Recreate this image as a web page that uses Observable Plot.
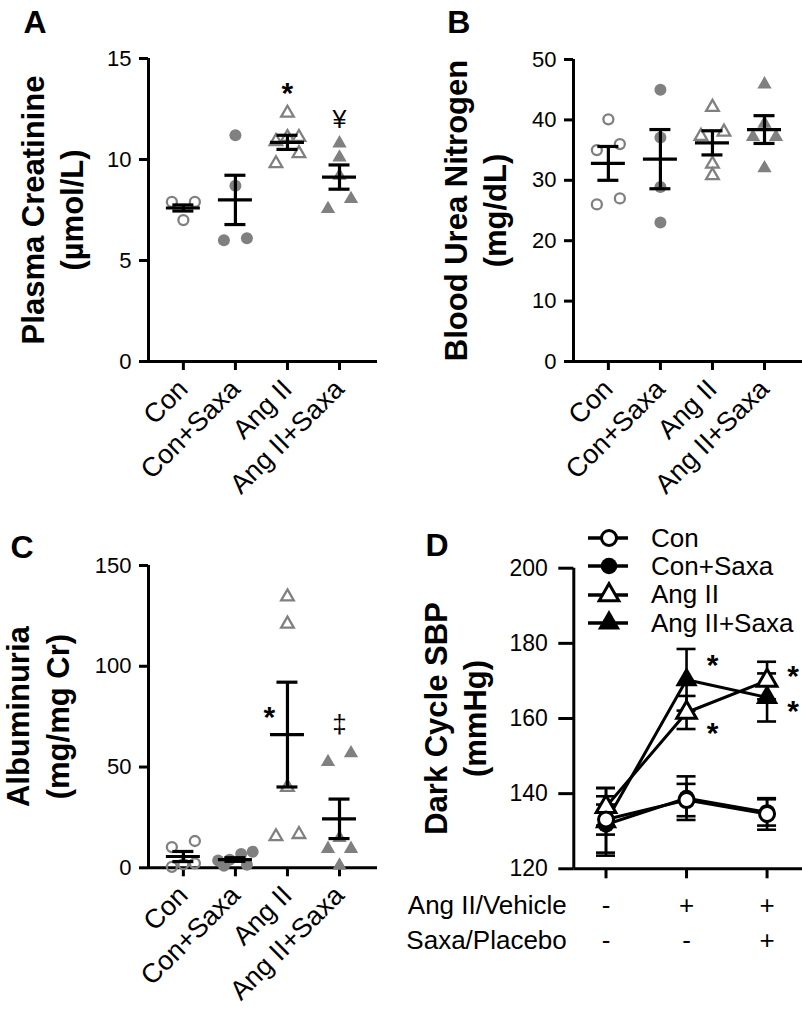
<!DOCTYPE html>
<html><head><meta charset="utf-8">
<script src="https://cdn.jsdelivr.net/npm/d3@7"></script>
<script src="https://cdn.jsdelivr.net/npm/@observablehq/plot@0.6"></script>
<style>
body{margin:0;background:#fff;}
#page{position:relative;width:802px;height:1019px;overflow:hidden;font-family:Arial,"Liberation Sans",Helvetica,sans-serif;background:#fff;}
.panel{position:absolute;}
#legend{position:absolute;left:588px;top:524px;font-size:26px;color:#000;}
#legend .row{display:flex;align-items:center;height:28.3px;}
#legend .row span{margin-left:23px;white-space:nowrap;}
</style></head><body><div id="page"></div>
<script>
// ---------- data ----------
const groups = ["Con", "Con+Saxa", "Ang II", "Ang II+Saxa"];

const creatinineTicks = [0, 5, 10, 15];
const creatinine = [[7.9, 7.9, 7.0], [11.2, 8.7, 6.1, 6.0], [12.3, 11.1, 11.1, 10.9, 10.3, 9.8], [10.8, 10.1, 9.2, 8.05, 7.55]];
const creatinineMean = [7.6, 8.0, 10.85, 9.13];
const creatinineSem = [0.15, 1.22, 0.35, 0.6];
const creatinineStar = [{g: 2, y: 13.25, t: "*"}];
const creatinineYen = [{g: 3, y: 11.95, t: "¥"}];

const bunTicks = [0, 10, 20, 30, 40, 50];
const bun = [[40.1, 36.0, 35.0, 27.0, 26.0], [45.0, 37.1, 28.9, 23.0], [42.1, 38.0, 37.3, 32.7, 30.8], [45.9, 39.4, 37.2, 37.2, 32.0]];
const bunMean = [32.8, 33.5, 36.2, 38.4];
const bunSem = [2.8, 4.9, 2.0, 2.3];

const albuminTicks = [0, 50, 100, 150];
const albumin = [[13.3, 10.3, 2.2, 1.8, 0.5], [8.0, 6.9, 4.0, 3.6, 1.5, 1.0], [134.5, 121.0, 40.0, 16.6, 15.5], [56.9, 52.5, 14.9, 9.4, 9.4, 1.1]];
const albuminMean = [5.6, 4.1, 66.1, 24.3];
const albuminSem = [2.5, 0.9, 26.0, 9.8];
const albuminStar = [{g: 2, y: 74.8, t: "*"}];
const albuminDagger = [{g: 3, y: 71.1, t: "‡"}];

const sbpTicks = [120, 140, 160, 180, 200];
const sbpMean = [[133.1, 138.3, 134.6], [131.8, 138.8, 135.0], [136.5, 161.6, 170.1], [132.5, 170.3, 165.6]];
const sbpSem = [[4.0, 4.3, 4.2], [7.5, 5.8, 3.5], [5.0, 4.4, 5.0], [9.0, 8.2, 6.4]];
const sbpStars = [{t: 1, y: 174.2}, {t: 1, y: 156.0}, {t: 2, y: 171.3}, {t: 2, y: 161.9}];
const angVehicleRow = ["-", "+", "+"];
const saxaRow = ["-", "-", "+"];
const rowLabels = ["Ang II/Vehicle", "Saxa/Placebo"];

// ---------- helpers ----------
const FONT = 'Arial, "Liberation Sans", Helvetica, sans-serif';
const GRAY = "#808080";
const STYLE = {fontFamily: FONT, fontSize: "22px", color: "black", background: "transparent", overflow: "visible", maxWidth: "none"};
const XDOM4 = [-0.67, 3.73];

function swarm(vals, yPix, pxPerUnit) {
  const pts = vals.map(v => ({v, py: yPix(v)})).sort((a, b) => a.py - b.py);
  const rows = [];
  for (const p of pts) {
    const r = rows[rows.length - 1];
    if (r && p.py - r[0].py < 10.5) r.push(p); else rows.push([p]);
  }
  const out = [];
  for (const r of rows) {
    r.sort((a, b) => a.v - b.v);
    const n = r.length;
    r.forEach((p, i) => {
      const off = n === 2 ? (i === 0 ? -11.5 : 11.5) : (i - (n - 1) / 2) * 11.5;
      out.push({v: p.v, off: off / pxPerUnit});
    });
  }
  return out;
}

function mount(node, left, top) {
  const div = document.createElement("div");
  div.className = "panel";
  div.style.left = left + "px";
  div.style.top = top + "px";
  div.appendChild(node);
  document.getElementById("page").appendChild(div);
}

function yLabel(text, dx) {
  return Plot.text([text], {frameAnchor: "left", textAnchor: "middle", lineAnchor: "middle", rotate: -90, dx, fontSize: 31, fontWeight: "bold", lineHeight: 1.26, text: d => d});
}
function letterMark(text, dx, dy) {
  return Plot.text([text], {frameAnchor: "top-left", dx, dy, lineAnchor: "top", textAnchor: "start", fontSize: 32, fontWeight: "bold", text: d => d});
}

function scatterPanel(c) {
  const yPix = d3.scaleLinear(c.yDomain, [c.height - c.mb, c.mt]);
  const pxPerUnit = (c.width - c.ml - c.mr) / (XDOM4[1] - XDOM4[0]);
  const pts = c.values.flatMap((vals, g) => swarm(vals, yPix, pxPerUnit).map(p => ({g, x: g + p.off, y: p.v})));
  const stats = c.mean.map((m, g) => ({g, m, s: c.sem[g]}));
  const styles = [
    {symbol: "circle", fill: "none", stroke: GRAY, strokeWidth: 2.3, r: 5},
    {symbol: "circle", fill: GRAY, r: 6},
    {symbol: "triangle", fill: "none", stroke: GRAY, strokeWidth: 2.3, r: 4.7},
    {symbol: "triangle", fill: GRAY, r: 5.3}
  ];
  const marks = [
    Plot.ruleY([c.yDomain[0]], {stroke: "black", strokeWidth: 3}),
    Plot.ruleX([XDOM4[0]], {stroke: "black", strokeWidth: 3}),
    Plot.axisY({ticks: c.yTicks, tickSize: 9, tickPadding: 8, strokeWidth: 3, fontSize: 22, label: null}),
    Plot.axisX({ticks: [0, 1, 2, 3], tickFormat: i => groups[i], tickRotate: -45, tickSize: 9, tickPadding: 14, strokeWidth: 3, fontSize: 27, label: null}),
    ...styles.map((st, g) => Plot.dot(pts.filter(p => p.g === g), {x: "x", y: "y", ...st})),
    Plot.ruleX(stats, {x: "g", y1: d => d.m - d.s, y2: d => d.m + d.s, strokeWidth: 3.2}),
    Plot.ruleY(stats, {x1: "g", x2: "g", y: "m", insetLeft: -17, insetRight: -17, strokeWidth: 3.2}),
    Plot.ruleY(stats, {x1: "g", x2: "g", y: d => d.m + d.s, insetLeft: -10.5, insetRight: -10.5, strokeWidth: 3.2}),
    Plot.ruleY(stats, {x1: "g", x2: "g", y: d => d.m - d.s, insetLeft: -10.5, insetRight: -10.5, strokeWidth: 3.2}),
    yLabel(c.ylabel, c.ylabelDx),
    letterMark(c.letter, c.letterDx, c.letterDy),
    ...(c.extra || [])
  ];
  return Plot.plot({
    width: c.width, height: c.height,
    marginTop: c.mt, marginBottom: c.mb, marginLeft: c.ml, marginRight: c.mr,
    x: {domain: XDOM4}, y: {domain: c.yDomain},
    style: STYLE, marks
  });
}

// ---------- panel A ----------
mount(scatterPanel({
  values: creatinine, mean: creatinineMean, sem: creatinineSem,
  yDomain: [0, 15], yTicks: creatinineTicks,
  ylabel: "Plasma Creatinine\n(µmol/L)", ylabelDx: -97.7,
  letter: "A", letterDx: -125, letterDy: -48,
  width: 400, height: 520, mt: 58, mb: 159, ml: 148, mr: 23,
  extra: [
    Plot.text(creatinineStar, {x: "g", y: "y", text: "t", fontSize: 30, fontWeight: "bold"}),
    Plot.text(creatinineYen, {x: "g", y: "y", text: "t", fontSize: 25})
  ]
}), 0, 0);

// ---------- panel B ----------
mount(scatterPanel({
  values: bun, mean: bunMean, sem: bunSem,
  yDomain: [0, 50], yTicks: bunTicks,
  ylabel: "Blood Urea Nitrogen\n(mg/dL)", ylabelDx: -99.5,
  letter: "B", letterDx: -126.3, letterDy: -49,
  width: 402, height: 520, mt: 59, mb: 159, ml: 173, mr: 0
}), 400, 0);

// ---------- panel C ----------
mount(scatterPanel({
  values: albumin, mean: albuminMean, sem: albuminSem,
  yDomain: [0, 150], yTicks: albuminTicks,
  ylabel: "Albuminuria\n(mg/mg Cr)", ylabelDx: -112,
  letter: "C", letterDx: -138, letterDy: -30,
  width: 400, height: 499, mt: 45, mb: 151.7, ml: 148, mr: 23,
  extra: [
    Plot.text(albuminStar, {x: "g", y: "y", text: "t", dx: -18, fontSize: 30, fontWeight: "bold"}),
    Plot.text(albuminDagger, {x: "g", y: "y", text: "t", fontSize: 26})
  ]
}), 0, 520);

// ---------- panel D ----------
(function () {
  const width = 402, height = 499, mt = 47.7, mb = 150.7, ml = 173.3, mr = 0;
  const XD = [-0.40, 2.44];
  const data = sbpMean.flatMap((row, g) => row.map((m, t) => ({g, t, m, s: sbpSem[g][t]})));
  const dStyles = [
    {symbol: "circle", fill: "white", stroke: "black", strokeWidth: 3, r: 7.5},
    {symbol: "circle", fill: "black", r: 8.3},
    {symbol: "triangle", fill: "white", stroke: "black", strokeWidth: 3, r: 7.3},
    {symbol: "triangle", fill: "black", r: 8.3}
  ];
  const drawOrder = [3, 1, 2, 0];
  const marks = [
    Plot.ruleY([sbpTicks[0]], {stroke: "black", strokeWidth: 3}),
    Plot.ruleX([XD[0]], {stroke: "black", strokeWidth: 3}),
    Plot.axisY({ticks: sbpTicks, tickSize: 15, tickPadding: 11, strokeWidth: 3, fontSize: 23, label: null}),
    Plot.axisX({ticks: [0, 1, 2], tickFormat: () => "", tickSize: 10, strokeWidth: 3, label: null}),
    Plot.ruleX(data, {x: "t", y1: d => d.m - d.s, y2: d => d.m + d.s, strokeWidth: 2.6}),
    Plot.ruleY(data, {x1: "t", x2: "t", y: d => d.m + d.s, insetLeft: -9.5, insetRight: -9.5, strokeWidth: 2.6}),
    Plot.ruleY(data, {x1: "t", x2: "t", y: d => d.m - d.s, insetLeft: -9.5, insetRight: -9.5, strokeWidth: 2.6}),
    Plot.line(data, {x: "t", y: "m", z: "g", stroke: "black", strokeWidth: 3}),
    ...drawOrder.map(g => Plot.dot(data.filter(d => d.g === g), {x: "t", y: "m", ...dStyles[g]})),
    Plot.text(sbpStars, {x: "t", y: "y", text: () => "*", dx: 26, fontSize: 30, fontWeight: "bold"}),
    Plot.text(angVehicleRow, {x: (d, i) => i, frameAnchor: "bottom", lineAnchor: "bottom", dy: 45, fontSize: 26, text: d => d}),
    Plot.text(saxaRow, {x: (d, i) => i, frameAnchor: "bottom", lineAnchor: "bottom", dy: 80, fontSize: 26, text: d => d}),
    Plot.text([rowLabels[0]], {frameAnchor: "bottom-left", textAnchor: "end", lineAnchor: "bottom", dx: -7, dy: 45, fontSize: 26, text: d => d}),
    Plot.text([rowLabels[1]], {frameAnchor: "bottom-left", textAnchor: "end", lineAnchor: "bottom", dx: -7, dy: 80, fontSize: 26, text: d => d}),
    yLabel("Dark Cycle SBP\n(mmHg)", -119.8),
    letterMark("D", -148.3, -34.7)
  ];
  mount(Plot.plot({
    width, height, marginTop: mt, marginBottom: mb, marginLeft: ml, marginRight: mr,
    x: {domain: XD}, y: {domain: [sbpTicks[0], sbpTicks[sbpTicks.length - 1]]},
    style: STYLE, marks
  }), 400, 520);

  // legend
  const legend = document.createElement("div");
  legend.id = "legend";
  const ns = "http://www.w3.org/2000/svg";
  groups.forEach((name, g) => {
    const row = document.createElement("div");
    row.className = "row";
    const svg = document.createElementNS(ns, "svg");
    svg.setAttribute("width", 40); svg.setAttribute("height", 28);
    const line = document.createElementNS(ns, "line");
    line.setAttribute("x1", 0); line.setAttribute("x2", 40); line.setAttribute("y1", 14); line.setAttribute("y2", 14);
    line.setAttribute("stroke", "black"); line.setAttribute("stroke-width", 3.5);
    svg.appendChild(line);
    const st = dStyles[g];
    const path = document.createElementNS(ns, "path");
    const sym = st.symbol === "circle" ? d3.symbolCircle : d3.symbolTriangle;
    path.setAttribute("d", d3.symbol(sym, st.r * st.r * Math.PI)());
    path.setAttribute("transform", "translate(21,14)");
    path.setAttribute("fill", st.fill);
    if (st.stroke) { path.setAttribute("stroke", st.stroke); path.setAttribute("stroke-width", st.strokeWidth); }
    svg.appendChild(path);
    row.appendChild(svg);
    const span = document.createElement("span");
    span.textContent = name;
    row.appendChild(span);
    legend.appendChild(row);
  });
  document.getElementById("page").appendChild(legend);
})();
</script>
</body></html>
